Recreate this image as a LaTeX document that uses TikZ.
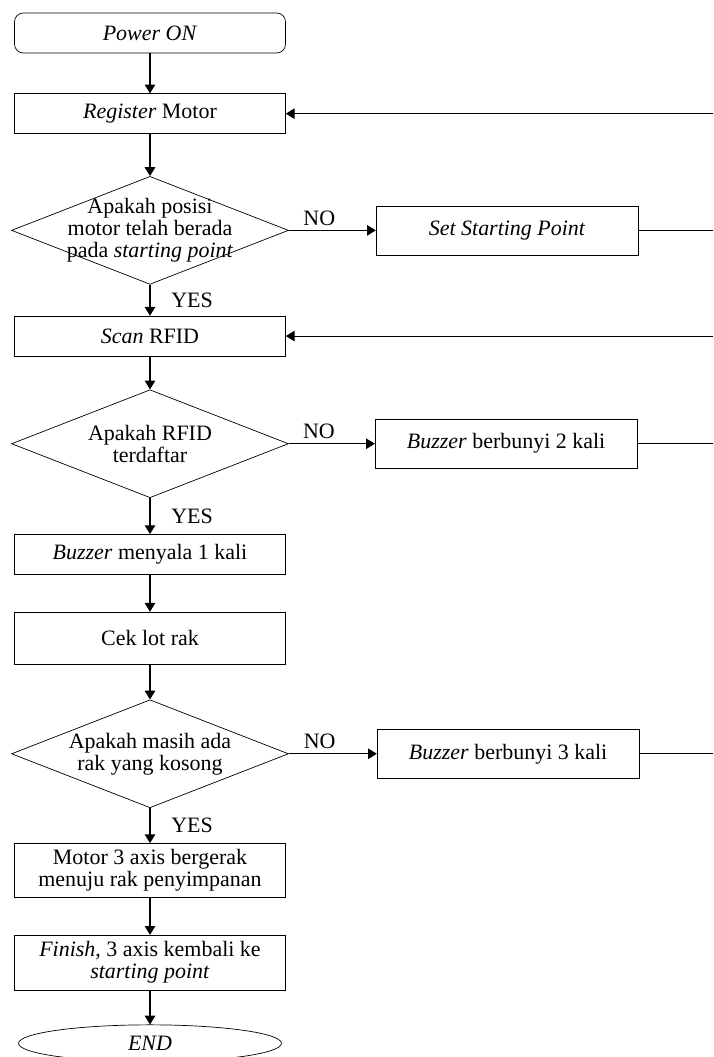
\documentclass[tikz,border=0pt]{standalone}
\usepackage{fontspec}
\setmainfont{Liberation Serif}
\usepackage{tikz}
\usetikzlibrary{shapes.geometric, arrows.meta, positioning, calc}

\begin{document}
\begin{tikzpicture}[x=0.02cm, y=-0.02cm,
    font=\fontsize{12.5}{12.5}\selectfont,
    node distance=0.8cm,
    box/.style={draw, rectangle, minimum width=5.42cm, minimum height=0.8cm, align=center},
    sidebox/.style={draw, rectangle, minimum width=5.24cm, minimum height=0.98cm, align=center},
    decision/.style={draw, diamond, minimum width=5.54cm, minimum height=2.16cm, inner sep=0pt},
    line/.style={line width=0.6pt},
    arrow/.style={line, -{Triangle[width=6pt,length=5pt]}}]
  \useasboundingbox (0,0) rectangle (713,1057);
  % main column
  \node[box, rounded corners=5pt] (power) at (150,33) {\textit{Power ON}};
  \node[box, below=0.8cm of power] (reg) {\textit{Register} Motor};
  \node[decision, below=0.84cm of reg] (d1) {};
  \node[align=center] at (d1) {Apakah posisi\\motor telah berada\\pada \textit{starting point}};
  \node[box, below=0.62cm of d1] (scan) {\textit{Scan} RFID};
  \node[decision, below=0.66cm of scan] (d2) {};
  \node[align=center] at (d2) {Apakah RFID\\terdaftar};
  \node[box, below=0.72cm of d2] (nyala) {\textit{Buzzer} menyala 1 kali};
  \node[box, minimum height=1.04cm, below=0.74cm of nyala] (cek) {Cek lot rak};
  \node[decision, below=0.7cm of cek] (d3) {};
  \node[align=center] at (d3) {Apakah masih ada\\rak yang kosong};
  \node[box, minimum height=1.08cm, below=0.7cm of d3] (motor) {Motor 3 axis bergerak\\menuju rak penyimpanan};
  \node[box, minimum height=1.1cm, below=0.74cm of motor] (finish) {\textit{Finish}, 3 axis kembali ke\\\textit{starting point}};
  \node[draw, ellipse, minimum width=5.26cm, minimum height=0.74cm, below=0.68cm of finish] (end) {\textit{END}};

  % side boxes
  \node[sidebox, right=1.74cm of d1] (setsp) {\textit{Set Starting Point}};
  \node[sidebox, right=1.72cm of d2] (buz2) {\textit{Buzzer} berbunyi 2 kali};
  \node[sidebox, right=1.76cm of d3] (buz3) {\textit{Buzzer} berbunyi 3 kali};

  % right edge
  \coordinate (edge) at (713,0);
  \coordinate (in1) at (reg.east -| edge);
  \coordinate (in2) at (scan.east -| edge);
  \coordinate (out1) at (setsp.east -| edge);
  \coordinate (out2) at (buz2.east -| edge);
  \coordinate (out3) at (buz3.east -| edge);

  \draw[arrow] (power) -- (reg);
  \draw[arrow] (reg) -- (d1);
  \draw[arrow] (d1) -- node[right=0.3cm] {YES} (scan);
  \draw[arrow] (scan) -- (d2);
  \draw[arrow] (d2) -- node[right=0.3cm] {YES} (nyala);
  \draw[arrow] (nyala) -- (cek);
  \draw[arrow] (cek) -- (d3);
  \draw[arrow] (d3) -- node[right=0.3cm] {YES} (motor);
  \draw[arrow] (motor) -- (finish);
  \draw[arrow] (finish) -- (end);

  \draw[arrow] (d1.east) -- node[pos=0.35, above=-1pt] {NO} (setsp);
  \draw[arrow] (d2.east) -- node[pos=0.35, above=-1pt] {NO} (buz2);
  \draw[arrow] (d3.east) -- node[pos=0.35, above=-1pt] {NO} (buz3);

  \draw[line] (setsp) -- (out1);
  \draw[line] (buz2) -- (out2);
  \draw[line] (buz3) -- (out3);
  \draw[arrow] (in1) -- (reg);
  \draw[arrow] (in2) -- (scan);
\end{tikzpicture}
\end{document}
